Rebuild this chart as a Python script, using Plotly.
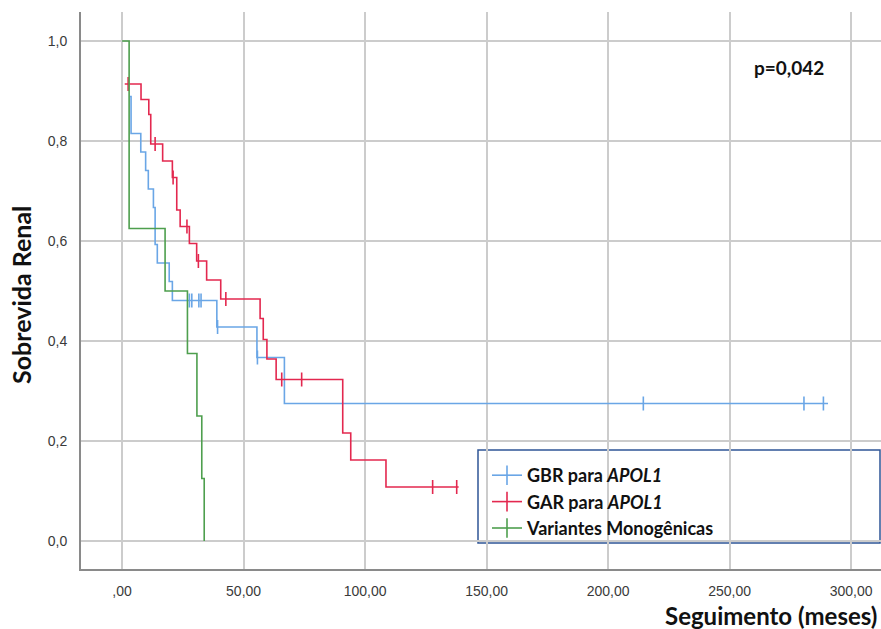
import numpy as np
import plotly.graph_objects as go

# ---- data ----
x_ticks = [0, 50, 100, 150, 200, 250, 300]
x_tick_labels = [",00", "50,00", "100,00", "150,00", "200,00", "250,00", "300,00"]
y_ticks = [0.0, 0.2, 0.4, 0.6, 0.8, 1.0]
y_tick_labels = ["0,0", "0,2", "0,4", "0,6", "0,8", "1,0"]

gbr_t = [3.2, 3.7, 7.7, 9.7, 10.8, 12.9, 13.6, 14.5, 19.4, 20.7, 39.0, 55.5, 66.8, 290.5]
gbr_s = [0.889, 0.815, 0.778, 0.741, 0.704, 0.667, 0.593, 0.556, 0.519, 0.481, 0.428, 0.367, 0.275, 0.275]
gbr_cens = [27.7, 28.7, 31.6, 32.5, 39.3, 55.7, 214.5, 280.6, 288.6]

gar_t = [1.1, 7.8, 11.0, 11.8, 16.7, 20.7, 22.5, 23.9, 27.7, 30.7, 34.8, 40.6, 56.8, 58.1,
         59.6, 63.4, 90.8, 94.1, 108.6, 138.5]
gar_s = [0.914, 0.883, 0.853, 0.794, 0.760, 0.727, 0.662, 0.629, 0.595, 0.560, 0.522, 0.484,
         0.445, 0.403, 0.364, 0.323, 0.216, 0.162, 0.108, 0.108]
gar_cens = [2.5, 13.6, 21.0, 26.7, 31.4, 42.7, 65.7, 73.9, 127.8, 137.7]

mono_t = [0.0, 2.9, 17.7, 26.9, 30.8, 32.8, 33.8]
mono_s = [1.0, 0.625, 0.5, 0.375, 0.25, 0.125, 0.0]
mono_cens = []

groups = [
    ("GBR para <i>APOL1</i>", gbr_t, gbr_s, gbr_cens, "#6AA6E6"),
    ("GAR para <i>APOL1</i>", gar_t, gar_s, gar_cens, "#E3284F"),
    ("Variantes Monogênicas", mono_t, mono_s, mono_cens, "#4E9F4E"),
]


def surv_at(t_arr, s_arr, t):
    idx = np.searchsorted(np.array(t_arr), t, side="right") - 1
    idx = max(idx, 0)
    return s_arr[idx]


fig = go.Figure()
for name, t, s, cens, col in groups:
    fig.add_trace(go.Scatter(x=t, y=s, mode="lines", line=dict(color=col, width=1.6, shape="hv"),
                             showlegend=False, hoverinfo="skip"))
    if cens:
        fig.add_trace(go.Scatter(x=cens, y=[surv_at(t, s, c) for c in cens], mode="markers",
                                 marker=dict(symbol="line-ns", size=10, color=col,
                                             line=dict(color=col, width=1.6)),
                                 showlegend=False, hoverinfo="skip"))
# legend entries
for name, t, s, cens, col in groups:
    fig.add_trace(go.Scatter(x=[None], y=[None], mode="lines+markers", name=name,
                             line=dict(color=col, width=1.6),
                             marker=dict(symbol="line-ns", size=14, color=col,
                                         line=dict(color=col, width=1.6))))

L, R, T, B = 81, 0, 12, 60
W, H = 881, 629
pw, ph = W - L - R, H - T - B


def px_x(p):
    return (p - L) / pw


def px_y(p):
    return (H - B - p) / ph


fig.update_layout(
    width=W, height=H,
    margin=dict(l=L, r=R, t=T, b=B, pad=0),
    paper_bgcolor="white", plot_bgcolor="white",
    font=dict(family="Liberation Sans, Arial", size=14, color="#3a3a3a"),
    xaxis=dict(range=[-16.9, 312.3], tickvals=x_ticks, ticktext=x_tick_labels,
               showgrid=True, gridcolor="#cccccc", gridwidth=1.6, zeroline=False,
               showline=True, linecolor="#8a8a8a", linewidth=2, ticks="",
               ticklabelstandoff=8, tickfont=dict(size=14, color="#3a3a3a")),
    yaxis=dict(range=[-0.056, 1.058], tickvals=y_ticks, ticktext=y_tick_labels,
               showgrid=True, gridcolor="#cccccc", gridwidth=1.6, zeroline=False,
               showline=True, linecolor="#8a8a8a", linewidth=2, ticks="",
               ticklabelstandoff=9, tickfont=dict(size=14, color="#3a3a3a")),
    legend=dict(x=px_x(487), y=px_y(457), xanchor="left", yanchor="top",
                bgcolor="rgba(0,0,0,0)", borderwidth=0, tracegroupgap=0,
                font=dict(family="Lato", size=18, color="#111111", weight="bold")),
    showlegend=True,
)

fig.add_shape(type="rect", xref="paper", yref="paper",
              x0=px_x(478), x1=px_x(880), y0=px_y(543), y1=px_y(450),
              line=dict(color="#2F5597", width=1.5), fillcolor="white", layer="between")

fig.add_annotation(text="p=0,042", xref="paper", yref="paper", x=px_x(789), y=px_y(67),
                   showarrow=False, xanchor="center", yanchor="middle",
                   font=dict(family="Lato", size=19, color="#111111", weight="bold"))
fig.add_annotation(text="Seguimento (meses)", xref="paper", yref="paper", x=px_x(879), y=px_y(615),
                   showarrow=False, xanchor="right", yanchor="middle",
                   font=dict(family="Lato", size=24, color="#111111", weight="bold"))
fig.add_annotation(text="Sobrevida Renal", xref="paper", yref="paper", x=px_x(21), y=px_y(295),
                   showarrow=False, xanchor="center", yanchor="middle", textangle=-90,
                   font=dict(family="Lato", size=25, color="#111111", weight="bold"))

fig.write_html("out.html")
